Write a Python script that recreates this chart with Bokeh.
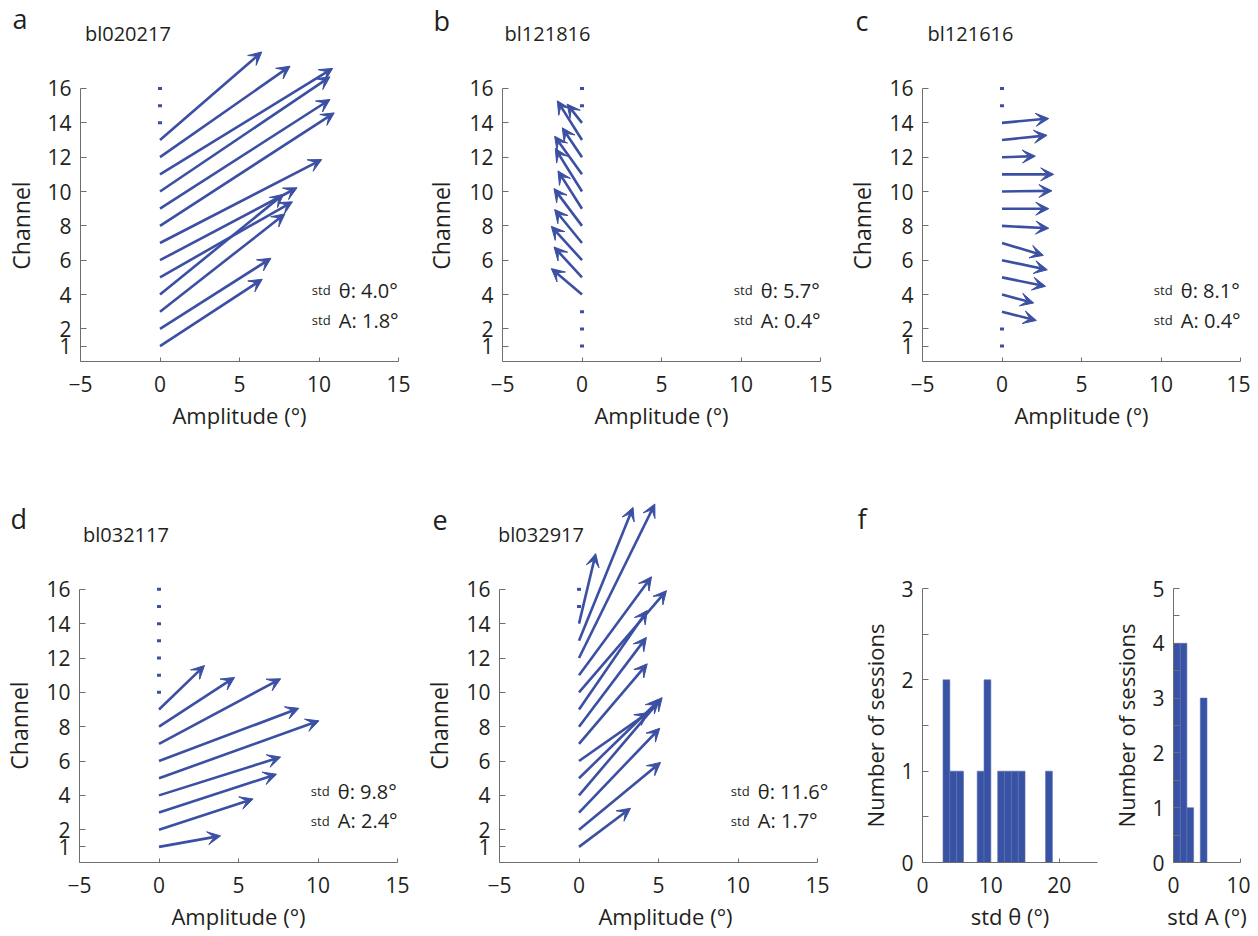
import math
from bokeh.plotting import figure
from bokeh.models import Range1d, Arrow, VeeHead, ColumnDataSource, Label, FixedTicker
from bokeh.layouts import row, column
from bokeh.embed import file_html
from bokeh.resources import INLINE

FONT = "Open Sans"
BLUE = "#3b4fa3"
BAR = "#3953a4"
AXC = "#6e6e6e"
TXT = "#231f20"
LIFT = 8  # px: lifts alphabetic-baseline labels onto their intended baseline

# ---------------- data ----------------
y_ticks = [1, 2, 4, 6, 8, 10, 12, 14, 16]
x_ticks = [-5, 0, 5, 10, 15]
all_channels = list(range(1, 17))

a_name = "bl020217"
a_channels = [1, 2, 3, 4, 5, 6, 7, 8, 9, 10, 11, 12, 13]
a_dx = [6.43, 6.98, 7.86, 7.77, 8.33, 8.62, 10.17, 10.96, 10.69, 10.69, 10.86, 8.18, 6.40]
a_dy = [3.89, 4.11, 5.70, 5.84, 4.40, 4.22, 4.86, 6.58, 6.36, 6.68, 6.17, 5.30, 5.13]
a_std_theta, a_std_amp = "4.0", "1.8"

b_name = "bl121816"
b_channels = [4, 5, 6, 7, 8, 9, 10, 11, 12, 13, 14]
b_dx = [-1.93, -1.76, -1.93, -1.72, -1.76, -1.51, -1.68, -1.72, -1.24, -1.55, -0.94]
b_dy = [1.51, 1.77, 1.97, 1.95, 2.17, 2.20, 2.50, 2.22, 1.71, 2.28, 1.09]
b_std_theta, b_std_amp = "5.7", "0.4"

c_name = "bl121616"
c_channels = [3, 4, 5, 6, 7, 8, 9, 10, 11, 12, 13, 14]
c_dx = [2.16, 1.99, 2.74, 2.85, 2.60, 2.94, 2.94, 3.14, 3.25, 2.10, 2.83, 2.94]
c_dy = [-0.51, -0.49, -0.52, -0.56, -0.72, -0.14, 0.0, 0.04, 0.0, 0.06, 0.27, 0.25]
c_std_theta, c_std_amp = "8.1", "0.4"

d_name = "bl032117"
d_channels = [1, 2, 3, 4, 5, 6, 7, 8, 9]
d_dx = [3.87, 5.92, 7.39, 7.65, 10.06, 8.80, 7.65, 4.75, 2.86]
d_dy = [0.64, 1.79, 2.23, 2.23, 3.34, 3.07, 3.79, 2.87, 2.56]
d_std_theta, d_std_amp = "9.8", "2.4"

e_name = "bl032917"
e_channels = [1, 2, 3, 4, 5, 6, 7, 8, 9, 10, 11, 12, 13, 14]
e_dx = [3.24, 5.13, 5.08, 5.23, 5.04, 4.35, 4.29, 4.24, 4.29, 5.50, 4.56, 4.77, 3.40, 1.05]
e_dy = [2.25, 3.92, 4.91, 5.69, 4.54, 2.82, 4.66, 5.20, 5.77, 5.92, 5.73, 8.97, 7.77, 4.08]
e_std_theta, e_std_amp = "11.6", "1.7"

theta_bin_left = [3, 4, 5, 8, 9, 11, 12, 13, 14, 18]
theta_counts = [2, 1, 1, 1, 2, 1, 1, 1, 1, 1]
amp_bin_left = [0, 1, 2, 4]
amp_counts = [4, 4, 1, 3]

TOP_H, BOT_H = 494, 440
F_HEAD = 50  # height of the strip above the histograms that holds the letter "f"


def style_axes(p):
    for ax in (p.xaxis[0], p.yaxis[0]):
        ax.axis_line_color = AXC
        ax.axis_line_width = 1
        ax.major_tick_line_color = AXC
        ax.minor_tick_line_color = AXC
        ax.major_tick_out = 0
        ax.minor_tick_out = 0
        ax.major_label_text_font = FONT
        ax.major_label_text_font_size = "21px"
        ax.major_label_text_color = TXT
        ax.axis_label_text_font = FONT
        ax.axis_label_text_font_size = "22px"
        ax.axis_label_text_font_style = "normal"
        ax.axis_label_text_color = TXT
    p.xaxis.major_tick_in = 4
    p.yaxis.major_tick_in = 6
    p.xaxis.major_label_standoff = 14
    p.yaxis.major_label_standoff = 9
    p.grid.grid_line_color = None
    p.outline_line_color = None


def strip(width, height, letter, lx, lbase, ch_cx=None, ch_cy=None):
    """Figure without axes holding the panel letter and the rotated 'Channel' label."""
    s = figure(width=width, height=height, x_range=Range1d(0, width), y_range=Range1d(0, height),
               min_border=0, toolbar_location=None, output_backend="svg",
               x_axis_location=None, y_axis_location=None, frame_align=False)
    s.outline_line_color = None
    s.grid.grid_line_color = None
    s.add_layout(Label(x=lx, y=height - lbase, y_offset=LIFT, text=letter, text_font=FONT,
                       text_font_size="27px", text_color=TXT, text_baseline="alphabetic"))
    if ch_cx is not None:
        s.add_layout(Label(x=ch_cx, y=height - ch_cy, angle=math.pi / 2, text="Channel",
                           text_font=FONT, text_font_size="23px", text_color=TXT,
                           text_align="center", text_baseline="middle"))
    return s


def quiver_panel(name, channels, dx, dy, std_t, std_a, width, height,
                 bl, br, bb, title_x, y0, xmax=15):
    frame_h = height - bb
    ytop = y0 + frame_h / 17.17
    p = figure(width=width, height=height, x_range=Range1d(-5, xmax),
               y_range=Range1d(y0, ytop), output_backend="svg",
               toolbar_location=None, min_border_left=bl, min_border_right=br,
               min_border_top=0, min_border_bottom=bb, frame_align=False)
    style_axes(p)
    p.yaxis.bounds = (y0, 16)
    p.xaxis.bounds = (-5, 15)
    p.yaxis.ticker = FixedTicker(ticks=y_ticks)
    p.xaxis.ticker = FixedTicker(ticks=x_ticks)
    p.yaxis.minor_tick_line_color = None
    p.xaxis.minor_tick_line_color = None
    p.xaxis.axis_label = "Amplitude (°)"
    p.xaxis.axis_label_standoff = 5

    src = ColumnDataSource(dict(
        x0=[0.0] * len(channels), y0=channels,
        x1=dx, y1=[c + v for c, v in zip(channels, dy)]))
    p.add_layout(Arrow(end=VeeHead(size=13, fill_color=BLUE, line_color=BLUE, line_width=1),
                       x_start="x0", y_start="y0", x_end="x1", y_end="y1",
                       line_color=BLUE, line_width=2.6, source=src))
    missing = [c for c in all_channels if c not in channels]
    p.rect(x=[0.0] * len(missing), y=missing, width=4, height=3,
           width_units="screen", height_units="screen", color=BLUE, line_width=0)

    p.add_layout(Label(x=title_x, y=18.74, y_offset=LIFT, text=name, text_font=FONT,
                       text_font_size="20px", text_color=TXT, text_baseline="alphabetic"))
    for yy, sym, val in ((3.78, "θ", std_t), (2.05, "A", std_a)):
        p.add_layout(Label(x=9.55, y=yy, y_offset=LIFT, text="std", text_font=FONT,
                           text_font_size="13px", text_color=TXT, text_baseline="alphabetic"))
        p.add_layout(Label(x=9.55, y=yy, y_offset=LIFT, x_offset=27, text=f"{sym}: {val}°",
                           text_font=FONT, text_font_size="20px", text_color=TXT,
                           text_baseline="alphabetic"))
    return p


def hist_panel(left, counts, xmax, ymax, xt, xlabel, width, bl, br):
    p = figure(width=width, height=BOT_H - F_HEAD, x_range=Range1d(0, xmax),
               y_range=Range1d(0, ymax), output_backend="svg", toolbar_location=None,
               min_border_left=bl, min_border_right=br, min_border_top=94 - F_HEAD,
               min_border_bottom=72, frame_align=False)
    style_axes(p)
    p.xaxis.ticker = FixedTicker(ticks=xt)
    p.xaxis.minor_tick_line_color = None
    yt = list(range(0, ymax + 1))
    p.yaxis.ticker = FixedTicker(ticks=yt, minor_ticks=[v + 0.5 for v in yt[:-1]])
    p.yaxis.minor_tick_in = 6
    p.yaxis.axis_label = "Number of sessions"
    p.yaxis.axis_label_standoff = 8
    p.xaxis.axis_label = xlabel
    p.xaxis.axis_label_standoff = 5
    p.quad(left=left, right=[v + 1 for v in left], bottom=0, top=counts,
           fill_color=BAR, line_color="#5b6fb6", line_width=0.6, level="underlay")
    return p


# top row  (page x: La 0-40, pa 40-420, Lb 420-462, pb 462-840, Lc 840-882, pc 882-1250)
la = strip(40, TOP_H, "a", 12, 26, 20, 225)
pa = quiver_panel(a_name, a_channels, a_dx, a_dy, a_std_theta, a_std_amp, 380, TOP_H, 40, 22, 133, -4.72, 0.1)
lb = strip(42, TOP_H, "b", 13, 28, 20.5, 225)
pb = quiver_panel(b_name, b_channels, b_dx, b_dy, b_std_theta, b_std_amp, 378, TOP_H, 40, 20, 133, -4.87, 0.1)
lc = strip(42, TOP_H, "c", 15, 28, 21, 225)
pc = quiver_panel(c_name, c_channels, c_dx, c_dy, c_std_theta, c_std_amp, 368, TOP_H, 40, 10, 133, -4.68, 0.1)

# bottom row (page x: Ld 0-40, pd 40-420, Le 420-460, pe 460-848, f 848-1250)
ld = strip(40, BOT_H, "d", 10, 526 - TOP_H, 18, 725 - TOP_H)
pd = quiver_panel(d_name, d_channels, d_dx, d_dy, d_std_theta, d_std_amp, 380, BOT_H, 39, 23, 72, -4.78, 0.09)
le = strip(40, BOT_H, "e", 12, 527 - TOP_H, 18.7, 725 - TOP_H)
pe = quiver_panel(e_name, e_channels, e_dx, e_dy, e_std_theta, e_std_amp, 388, BOT_H, 39, 17, 72, -5.09, 0.09, xmax=15.88)
lf = strip(402, F_HEAD, "f", 9, 526 - TOP_H)
pf1 = hist_panel(theta_bin_left, theta_counts, 25.6, 3, [0, 10, 20], "std θ (°)", 260, 74, 11)
pf2 = hist_panel(amp_bin_left, amp_counts, 10, 5, [0, 10], "std A (°)", 142, 64, 10)

layout = column(row(la, pa, lb, pb, lc, pc),
                row(ld, pd, le, pe, column(lf, row(pf1, pf2))))
open("out.html", "w").write(file_html(layout, INLINE))
